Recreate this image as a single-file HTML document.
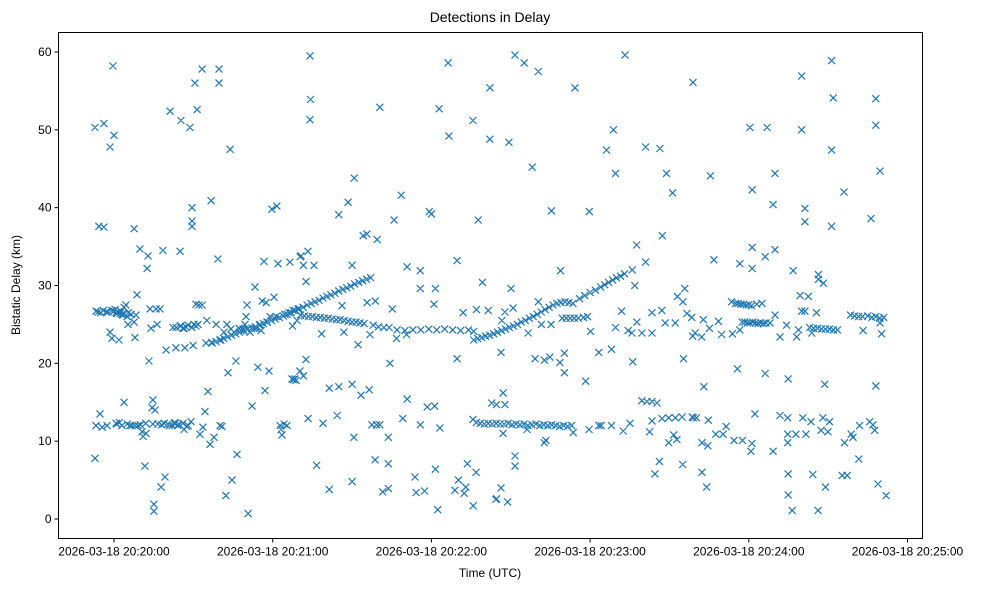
<!DOCTYPE html>
<html><head><meta charset="utf-8"><style>
html,body{margin:0;padding:0;background:#fff;}
svg{display:block;font-family:"Liberation Sans","DejaVu Sans",sans-serif;}
</style></head><body>
<svg id="chart" width="988" height="590" viewBox="0 0 988 590">
<text x="490" y="22" text-anchor="middle" font-size="14">Detections in Delay</text>
<text x="490" y="577" text-anchor="middle" font-size="12">Time (UTC)</text>
<text transform="translate(20,285) rotate(-90)" text-anchor="middle" font-size="12">Bistatic Delay (km)</text>
<g id="marks"></g>
<g id="axes"></g>
<rect x="58.5" y="32.5" width="864" height="506" fill="none" stroke="#000" stroke-width="1"/>
</svg>
<script>
// seconds after 20:20:00 UTC, delay in km
const xTickSeconds = [0, 60, 120, 180, 240, 300];
const xTickLabels = ["2026-03-18 20:20:00","2026-03-18 20:21:00","2026-03-18 20:22:00","2026-03-18 20:23:00","2026-03-18 20:24:00","2026-03-18 20:25:00"];
const yTickValues = [0, 10, 20, 30, 40, 50, 60];
const scatterDetections = [
[-7.2,50.3],[-7.2,7.8],[-6.8,26.7],[-6.8,12],[-5.7,37.6],[-5.3,13.5],[-4.5,11.8],[-3.8,37.5],[-3.8,50.8],[-2.6,12],[-2.3,26.6],[-1.5,24],[-1.5,47.8],[-0.8,23.2],[-0.4,58.2],[0,49.3],[-0.8,26.8],[0,26.7],[0.8,26.5],[1.5,26.6],[0.8,12.3],[1.9,23],[2.3,26.4],[3,26.3],[3.8,27.2],[4.5,27.5],[3.8,15],[4.9,26],[5.3,25],[6,12],[6.8,12],[7.6,37.3],[7.6,25.3],[7.9,23.3],[8.3,26.2],[8.7,28.8],[9.1,12],[9.8,34.7],[10.6,11.2],[11,10.6],[11.7,6.8],[12.1,11],[12.5,32.2],[12.9,33.8],[13.2,20.3],[13.6,27],[14,24.5],[14.4,14.3],[14.7,15.3],[15.1,1.9],[15.1,1],[14.7,12.2],[15.5,14],[15.9,27],[16.3,25],[16.6,12.2],[17.4,27],[17.8,4.1],[18.5,34.5],[19.3,5.4],[19.7,21.7],[20.4,12.2],[21.2,52.4],[22,12],[22.3,24.6],[23.1,12.2],[23.4,22],[24.2,12],[25,34.4],[25.3,24.8],[25.3,51.2],[26.1,24.5],[26.5,11.5],[26.8,22],[27.2,24.7],[28,12],[28.7,50.3],[29.1,12.5],[29.5,37.6],[29.5,38.3],[29.5,40],[29.9,22.3],[30.2,25],[30.6,56],[31,27.6],[31.4,52.6],[31.8,25],[32.1,27.5],[32.5,10.9],
[1,12.2],[2,12.4],[3,12],[5,12.2],[8,12],[10,12.1],[12,12.3],[18,12.1],[19,12.3],[21,12],[23,12.4],[24.5,12.2],[26,12.3],[27.5,11.9],[-6,26.6],[-5,26.5],[-4,26.8],[-3,26.6],[0.4,26.9],[1.1,26.4],[2.6,26.7],[3.4,26.2],[5.5,26.5],[6.5,26.3],
[23.5,24.6],[25,24.8],[26.5,24.5],[28,24.9],[29.5,24.6],[31,24.8],
[33.3,57.8],[33.3,27.5],[33.6,11.8],[34.4,13.8],[34.8,22.6],[35.1,25.5],[35.5,16.4],[36.3,9.6],[36.7,40.9],[37,22.7],[37.8,10.5],[38.6,25],[39.3,33.4],[39.7,57.8],[39.7,56],[40.1,12],[40.4,23],[40.8,11.9],[41.6,24],[42.3,3],[42.7,25],[43.1,18.8],[43.9,47.5],[44.2,24.4],[44.6,5],[45.4,24],[46.1,20.3],[46.5,8.3],[47.3,24.5],[48,24.2],[48.8,24.4],[49.5,25],[49.9,26],[50.3,27.5],[50.7,0.7],[51.4,24],[52.2,14.5],[52.9,24.5],[53.3,29.8],[53.7,24.5],[54.4,19.5],[55.2,25],[55.6,24.2],[56,28],[56.7,33.1],[57.1,16.5],[57.5,27.8],[57.8,25.3],[58.6,19],[59,26],[59.7,39.8],[60.5,28.5],[61.3,26],[61.6,40.2],[62,32.8],[62.8,12],[63.1,11.5],[63.5,10.8],[64.3,12.2],[64.6,26.3],[65.4,12],[66.2,26.5],[66.5,33],[67.3,18],[67.7,26.8],[68.4,18],[68.8,17.8],[69.2,25.5],[69.6,27],[70.3,19],[70.7,33.8],
[37,22.6],[38.5,22.8],[40,23],[41.5,23.2],[43,23.4],[44.5,23.6],[46,23.8],[47.5,24.0],[49,24.2],[50.5,24.4],[52,24.5],[53.5,24.7],[55,24.9],[56.5,25.1],[58,25.3],[59.5,25.5],[61,25.7],[62.5,25.9],[64,26.1],[65.5,26.3],[67,26.5],[68.5,26.8],[70,27],[71.5,27.2],[73,27.5],[74.5,27.7],[76,27.9],[77.5,28.1],[79,28.4],[80.5,28.6],[82,28.8],[83.5,29],[85,29.3],[86.5,29.5],[88,29.7],[89.5,29.9],[91,30.2],[92.5,30.4],[94,30.6],[95.5,30.8],[97,31],
[70.5,26.2],[72,26.1],[73.5,26],[75,26],[76.5,25.9],[78,25.9],[79.5,25.8],[81,25.8],[82.5,25.7],[84,25.6],[85.5,25.6],[87,25.5],[88.5,25.4],[90,25.3],[91.5,25.3],[93,25.2],[94.5,25.1],
[74.1,59.5],[74.3,53.9],[74.1,51.3],[100.5,52.9],[126.3,58.6],[122.9,52.7],[126.6,49.2],[135.7,51.2],[142.1,55.4],[142.1,48.8],[90.8,43.8],[88.5,40.7],[85,39.1],[108.6,41.6],[105.9,38.4],[119.2,39.5],[120,39.2],[137.7,38.4],[94.2,36.4],[95.6,36.6],[99.5,35.9],[73.3,34.4],[70.4,33.7],[71.6,32.6],[75.6,32.6],[90,32.6],[129.7,33.2],[110.8,32.4],[115.8,31.9],[72.6,30.5],[115.8,29.6],[121.5,29.6],[139.3,30.4],[86.2,27.4],[95.7,27.8],[98.8,28.0],[105.2,27.0],[121,27.6],[132,26.5],[137,26.9],[141.5,26.8],[67.5,24.8],[78.5,23.8],[86.9,24.0],[92.3,22.4],[96.8,23.7],[106.8,23.2],[110.6,23.7],[104.3,20.0],[129.7,20.6],[72.6,20.5],[71.6,18.4],[67.8,17.9],
[98,24.9],[100,24.7],[102,24.6],[104,24.6],[107,24.3],[110,24.2],[113,24.3],[116,24.3],[119,24.4],[122,24.3],[125,24.4],[128,24.3],[131,24.2],[134,24.3],[136,24.1],
[81.4,16.8],[85,17],[90,17.3],[93.4,15.9],[96.5,16.6],[110.8,15.4],[118.4,14.4],[121.2,14.5],[142.8,14.9],[73.4,12.9],[79,12.3],[84.4,13.3],[90.7,10.5],[97.5,12.1],[99.3,12.1],[100.5,12.1],[103.7,10.5],[109.2,12.9],[115.8,12.1],[123.2,11.7],[135.7,12.8],
[76.6,6.9],[81.4,3.8],[90,4.8],[98.7,7.6],[103.7,7.1],[101.6,3.5],[103.7,3.9],[113.8,5.4],[114.2,3.4],[117.4,3.6],[121.5,6.4],[122.4,1.2],[130.2,5.0],[133.6,7.1],[136.9,6.0],[128.9,3.7],[132.4,3.3],[135.8,1.7],[144.4,2.5],[133,4.1],
[151.6,59.6],[155.1,58.6],[160.4,57.5],[174.3,55.4],[193.2,59.6],[218.9,56.1],[149.3,48.4],[158.1,45.2],[188.8,50.0],[186.2,47.4],[201,47.8],[206.4,47.6],[189.6,44.4],[208.9,44.4],[211.2,41.9],[165.4,39.6],[179.7,39.5],[197.6,35.2],[207.3,36.4],[201,33.0],[168.8,31.9],[195.9,32.0],[196.9,30.0],[150.1,29.6],[160.4,27.9],[215.8,29.6],[213,28.6],[215.1,27.9],
[136,23.0],[137.5,23.2],[139,23.3],[140.5,23.5],[142,23.6],[143.5,23.8],[145,24.0],[146.5,24.2],[148,24.4],[149.5,24.6],[151,24.8],[152.5,25.0],[154,25.3],[155.5,25.5],[157,25.8],[158.5,26.0],[160,26.3],[161.5,26.6],[163,26.9],[164.5,27.2],[166,27.5],[167.5,27.7],[169,27.8],[170.5,27.9],[172,27.8],[173.5,27.7],[176,28.3],[178,28.7],[180,29.1],[182,29.4],[184,29.8],[185.5,30.1],[187,30.4],[188.5,30.7],[190,31.0],[191.5,31.2],[193,31.5],
[169.5,25.8],[171,25.8],[172.5,25.8],[174,25.8],[175.5,25.8],[177.5,25.9],[179,26.0],
[147.8,26.6],[150.9,27.1],[146.6,25.5],[156.6,23.9],[161.6,25.0],[165.2,25.0],[146.3,21.4],[159.2,20.6],[162.7,20.4],[164.8,20.8],[168.6,20.1],[170.3,21.3],[170.3,18.8],[178.3,17.7],[180.2,24.1],[183.3,21.4],[188.1,21.8],[189.6,24.6],[191.9,26.7],[194.4,24.2],[196.1,20.2],[197.7,25.3],[199.6,23.9],[203.4,23.9],[203.4,26.5],[207.1,26.8],[208.4,25.2],[212.2,25.2],[215.3,20.6],[216.6,26.4],[218.8,23.5],[195.8,23.9],
[147.1,16.2],[144.6,14.7],[147.8,14.7],
[137,12.4],[138.5,12.3],[140,12.2],[141.5,12.3],[143,12.2],[144.5,12.3],[146,12.2],[147.5,12.2],[149,12.3],[150.5,12.1],[152,12.2],[153.5,12.1],[155,12.2],[156.5,12.0],[158,12.1],[159.5,12.2],[161,12.0],[162.5,12.1],[164,12.0],[165.5,12.1],[167,12.0],[168.5,11.9],[170,12.0],[171.5,11.9],[173,12.0],
[147.1,11.0],[156.2,11.5],[162.7,9.8],[163.3,10.1],[173.6,11.1],[179.6,11.5],[183.3,12.0],[184.2,12.0],[188.1,12.0],[192.5,11.3],[195.1,12.3],[199.6,15.2],[201.5,15.1],[203.4,15.1],[205.3,14.9],[202.5,11.2],[203.4,12.6],[207.2,12.9],[209.7,13.0],[212.2,13.0],[214.8,13.1],[218.6,13.1],[209.7,9.8],[211.6,10.8],[212.8,10.2],[151.6,8.1],[151.6,6.8],[206.2,7.4],[204.5,5.8],[215,7.0],[146.3,4.0],[144.6,2.6],[148.8,2.2],
[271.3,58.9],[260.0,56.9],[271.9,54.1],[288,54.0],[240.4,50.3],[246.9,50.3],[260,50.0],[288,50.6],[271.3,47.4],[225.5,44.1],[249.9,44.4],[289.6,44.7],[241.3,42.3],[276,42.0],[249.2,40.4],[261.2,39.9],[261.2,38.2],[271.3,37.6],[286.2,38.6],[241.3,34.9],[249.9,34.6],[226.8,33.3],[236.6,32.8],[241.3,32.2],[246.2,33.7],[256.8,31.9],[266.3,31.4],[266.3,30.8],[268.2,30.3],[259.4,28.7],[262.5,28.6],
[233.5,27.9],[235,27.7],[236,27.7],[237,27.6],[238,27.6],[239,27.5],[240,27.5],[241,27.4],[243,27.6],[245,27.7],[237.5,25.3],[238.5,25.3],[239.5,25.2],[240.5,25.2],[241.5,25.3],[242.5,25.2],[243.5,25.1],[244.5,25.2],[245.5,25.1],[246.5,25.2],[248,25.2],
[249.9,26.2],[260,26.7],[261.2,26.7],[265.6,26.5],
[263,24.6],[264.5,24.5],[266,24.5],[267.5,24.4],[269,24.4],[270.5,24.4],[272,24.3],[273.5,24.3],
[278.5,26.2],[280,26.1],[281.5,26.0],[283,26.0],[285,26.1],[286.5,25.9],[288,26.0],[289.5,25.8],[291,25.9],
[218.4,25.9],[222.8,25.6],[225.1,24.5],[228.5,25.4],[219.7,23.9],[222.2,23.4],[229.7,23.7],[233.8,23.8],[236.6,24.3],[251.8,23.4],[254.3,24.9],[258.1,23.4],[258.8,24.3],[263.8,23.9],[283.2,24.2],[290.2,23.8],[289.6,25.2],
[235.7,19.3],[246.2,18.7],[254.9,18.0],[268.7,17.3],[288,17.1],[223,17.0],
[219,13.0],[220.2,13.0],[224.7,12.7],[231.4,11.9],[222.3,9.8],[224.5,9.4],[227.5,10.9],[230.3,10.9],[234.4,10.1],[237.6,10.1],[241.2,9.7],[240.8,8.7],[242.3,13.5],[251.8,13.3],[254.7,13.0],[254.7,10.9],[254.7,9.8],[257.8,10.9],[260.4,13.0],[261.6,10.9],[263.5,12.5],[267.3,11.4],[268,13.0],[269.9,11.2],[270.5,12.5],[276.2,9.8],[278.7,10.9],[279.4,10.5],[281.9,12.0],[285.7,12.5],[286.9,12.1],[287.6,11.4],[249.2,8.7],
[222.3,6.0],[224.1,4.1],[254.9,5.8],[254.9,3.1],[256.4,1.1],[264.2,5.7],[266.2,1.1],[269,4.1],[275.3,5.6],[277.2,5.6],[281.6,7.7],[288.8,4.5],[291.9,3.0]
];

const NS = "http://www.w3.org/2000/svg";
const plot = {left: 58.5, right: 922.5, top: 32.5, bottom: 538.5};
function xScale(t) { return 114 + t * (158.7 / 60); }
function yScale(d) { return 519 - d * (467 / 60); }

const marks = document.getElementById('marks');
const axes = document.getElementById('axes');
let mpath = "";
scatterDetections.forEach(p => {
  const x = xScale(p[0]), y = yScale(p[1]), r = 3.5;
  mpath += `M${(x-r).toFixed(1)} ${(y-r).toFixed(1)}L${(x+r).toFixed(1)} ${(y+r).toFixed(1)}M${(x-r).toFixed(1)} ${(y+r).toFixed(1)}L${(x+r).toFixed(1)} ${(y-r).toFixed(1)}`;
});
const mp = document.createElementNS(NS, 'path');
mp.setAttribute('d', mpath);
mp.setAttribute('stroke', '#1f77b4');
mp.setAttribute('stroke-width', '1.2');
mp.setAttribute('fill', 'none');


marks.appendChild(mp);

xTickSeconds.forEach((t, i) => {
  const x = xScale(t);
  const ln = document.createElementNS(NS, 'line');
  ln.setAttribute('x1', x); ln.setAttribute('x2', x);
  ln.setAttribute('y1', plot.bottom); ln.setAttribute('y2', plot.bottom + 4);
  ln.setAttribute('stroke', '#000');
  
  
  axes.appendChild(ln);
  const tx = document.createElementNS(NS, 'text');
  tx.setAttribute('x', x); tx.setAttribute('y', plot.bottom + 17);
  tx.setAttribute('text-anchor', 'middle');
  tx.setAttribute('font-size', '12');
  tx.textContent = xTickLabels[i];
  
  
  axes.appendChild(tx);
});
yTickValues.forEach(v => {
  const y = yScale(v);
  const ln = document.createElementNS(NS, 'line');
  ln.setAttribute('x1', plot.left - 4); ln.setAttribute('x2', plot.left);
  ln.setAttribute('y1', y); ln.setAttribute('y2', y);
  ln.setAttribute('stroke', '#000');
  
  
  axes.appendChild(ln);
  const tx = document.createElementNS(NS, 'text');
  tx.setAttribute('x', plot.left - 7); tx.setAttribute('y', y + 4);
  tx.setAttribute('text-anchor', 'end');
  tx.setAttribute('font-size', '12');
  tx.textContent = String(v);
  
  
  axes.appendChild(tx);
});
</script>
</body></html>
